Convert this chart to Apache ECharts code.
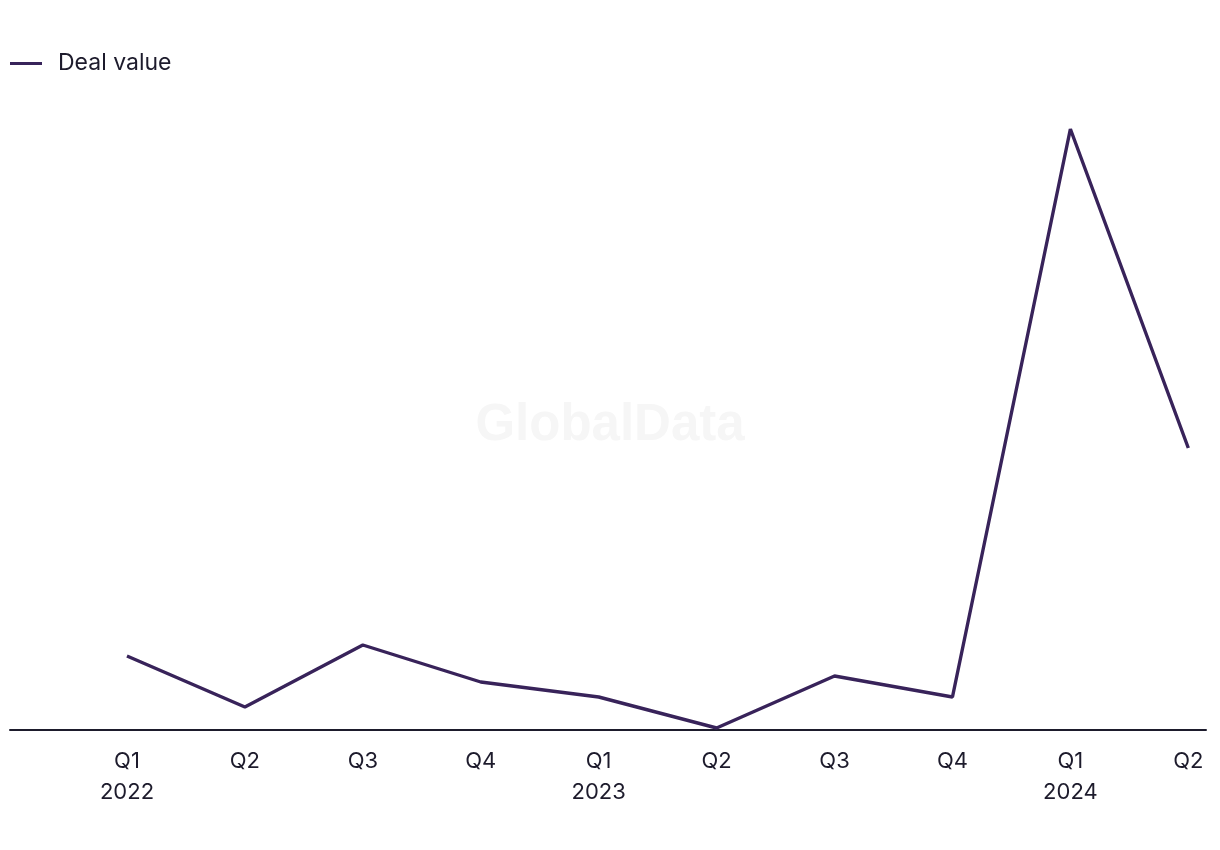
<!DOCTYPE html>
<html><head><meta charset="utf-8">
<script src="https://cdn.jsdelivr.net/npm/echarts@6/dist/echarts.min.js"></script>
<style>html,body{margin:0;padding:0;background:#fff}#c{width:1220px;height:850px}</style>
</head><body><div id="c"></div>
<script>
const categories = ["Q1\n2022","Q2","Q3","Q4","Q1\n2023","Q2","Q3","Q4","Q1\n2024","Q2"];
const dealValue = [74, 23, 85, 48, 33, 2, 54, 33, 601, 282];
const seriesName = "Deal value";

const chart = echarts.init(document.getElementById('c'));
const idx = categories.map((_, i) => i);
chart.setOption({
  animation: false,
  textStyle: { fontFamily: 'Inter, "Liberation Sans", sans-serif' },
  legend: {
    left: 10, top: 52, itemWidth: 32, itemHeight: 3, itemGap: 10, padding: 0,
    icon: 'rect',
    textStyle: { fontSize: 23, color: '#1d1b2c', fontFamily: 'Inter, sans-serif', padding: [0, 0, 0, 11] },
    data: [seriesName]
  },
  graphic: [{
    type: 'text', left: 'center', top: 400, z: 0,
    style: { text: 'GlobalData', fontSize: 51, fontWeight: 'bold', fill: '#f6f6f6', fontFamily: '"Liberation Sans", Arial, sans-serif' }
  }],
  grid: { left: 10, right: 14, top: 100, bottom: 120, containLabel: false },
  xAxis: {
    type: 'value', min: -0.992, max: 9.15,
    splitLine: { show: false },
    axisLine: { show: true, lineStyle: { color: '#1d1b2c', width: 2 } },
    axisTick: { show: false },
    axisLabel: {
      customValues: idx, margin: 16,
      formatter: v => categories[Math.round(v)],
      fontSize: 22, lineHeight: 31, color: '#1d1b2c', fontFamily: 'Inter, sans-serif'
    }
  },
  yAxis: {
    type: 'value', min: 0, max: 630, show: false
  },
  series: [{
    name: seriesName, type: 'line',
    data: dealValue.map((v, i) => [i, v]),
    showSymbol: false, symbol: 'none',
    lineStyle: { color: '#38235a', width: 3.4 },
    itemStyle: { color: '#38235a' },
    z: 3
  }]
});
</script></body></html>
